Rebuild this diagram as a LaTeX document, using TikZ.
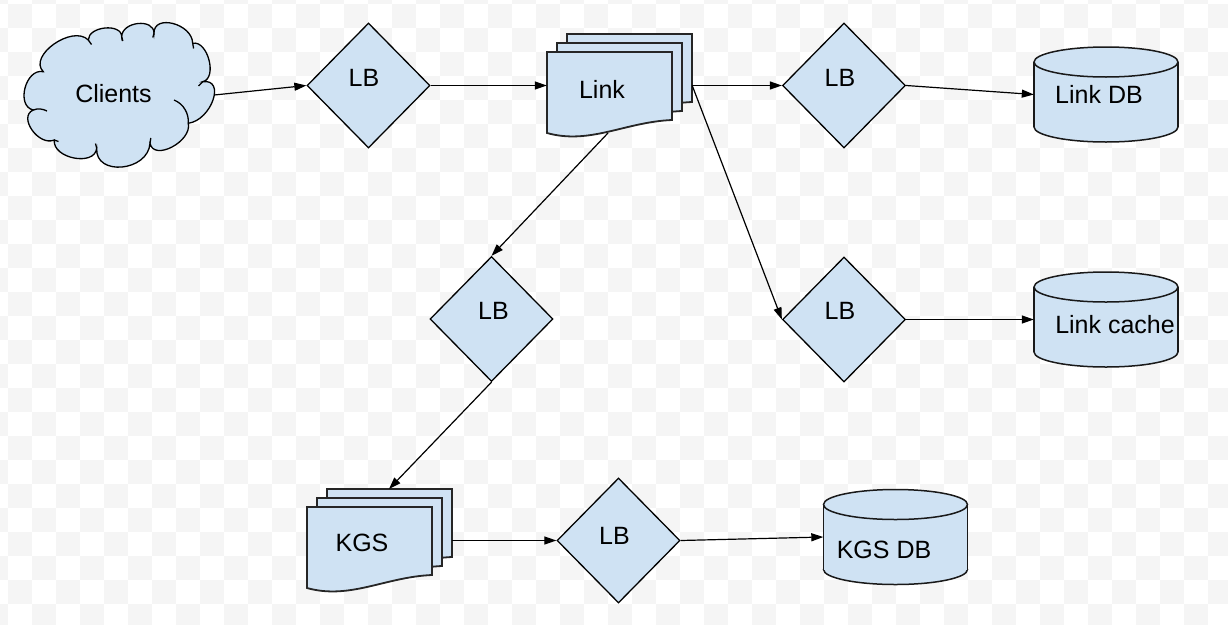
\documentclass[tikz,border=0pt]{standalone}
\usepackage{fontspec}
\setmainfont{Liberation Sans}
\usetikzlibrary{shapes.geometric,arrows.meta}
\definecolor{shapefill}{HTML}{CFE2F3}
\definecolor{checker}{HTML}{F5F5F5}
\begin{document}
\begin{tikzpicture}[x=1pt,y=-1pt,
  lbshape/.style={diamond, draw=black, fill=shapefill, line width=1.3pt,
    minimum width=123pt, minimum height=125pt, inner sep=0pt},
  lbl/.style={font=\fontsize{25}{29}\selectfont, anchor=base, inner sep=0pt},
  conn/.style={draw=black, line width=1.2pt, -{Triangle[length=12pt,width=8pt]}},
  docsh/.style={fill=shapefill, draw=black!85, line width=1.8pt, line join=miter},
  cylfill/.style={fill=shapefill, draw=black!90, line width=1.5pt},
  cloudsh/.style={fill=shapefill, draw=black, line width=1.3pt},
  areabox/.style={inner sep=0pt, draw=none},
  doc/.pic={\path[docsh] (0,0) -- (125,0) -- (125,68)
      .. controls (78,70) and (43,93) .. (0,81) -- cycle;},
  cyl/.pic={
    \path[cylfill] (0,32.5) ellipse[x radius=72, y radius=15];
    \fill[shapefill] (-72,-32.5) rectangle (72,32.5);
    \draw[black!90, line width=1.5pt] (-72,-32.5) -- (-72,32.5) (72,-32.5) -- (72,32.5);
    \path[cylfill] (0,-32.5) ellipse[x radius=72, y radius=15];}
]
\useasboundingbox (0,0) rectangle (1228,624);
% background checkerboard
\fill[white] (0,0) rectangle (1228,624);
\begin{scope}
\clip (0,0) rectangle (1228,624);
\foreach \i in {-1,...,50}{
  \pgfmathtruncatemacro\jz{-mod(\i+2,2)}
  \pgfmathtruncatemacro\jzz{\jz+2}
  \foreach \j in {\jz,\jzz,...,26}{
    \fill[checker] ({8+24*\i},{4+24*\j}) rectangle +(24,24);
  }
}
\end{scope}

% cloud
\path[cloudsh] (43.3,71.7)
  .. controls (27.57,55.9) and (72.57,24.2) .. (88.3,40)
  .. controls (88.3,26.2) and (121.7,22.9) .. (121.7,36.7)
  .. controls (121.9,21.37) and (154.2,17.97) .. (154,33.3)
  .. controls (153.53,13.57) and (192.23,23.57) .. (192.7,43.3)
  .. controls (207.77,39.97) and (217.77,78.37) .. (202.7,81.7)
  .. controls (226.03,78.37) and (211.63,119.97) .. (188.3,123.3)
  .. controls (192.1,141.57) and (153.8,161.57) .. (150,143.3)
  .. controls (148.2,171.57) and (94.9,176.57) .. (96.7,148.3)
  .. controls (94.7,166.77) and (52.3,158.47) .. (54.3,140)
  .. controls (38.57,146.67) and (17.57,116.67) .. (33.3,110)
  .. controls (15.57,106.2) and (25.57,67.9) .. (43.3,71.7) -- cycle;
\draw[black, line width=1.3pt]
  (174,100) .. controls (184,104) and (189,114) .. (188.3,123.3)
  (33.3,110) .. controls (38,108) and (43,109) .. (47,111)
  (88.3,40) -- (91.5,44.5)
  (121.7,36.7) -- (122.8,41)
  (154,33.3) -- (152.8,37.5)
  (192.7,43.3) -- (193.6,48.5)
  (202.7,81.7) -- (198.5,86)
  (150,143.3) -- (150.8,138)
  (96.7,148.3) -- (95.5,143.5)
  (54.3,140) -- (58.5,141.5);
\node[areabox, minimum width=189pt, minimum height=145pt] (clients) at (119.5,95) {};
\node[lbl] (tclients) at (113.5,102) {Clients};

% Link stack
\pic at (567,34) {doc};
\pic at (557,43) {doc};
\pic at (547,52) {doc};
\node[areabox, minimum width=145pt, minimum height=103pt] (link) at (619.5,85.5) {};
\node[lbl] (tlink) at (602,98) {Link};
\coordinate (linkbot) at (608,133);

% KGS stack
\pic at (327,489) {doc};
\pic at (317,498) {doc};
\pic at (307,507) {doc};
\node[areabox, minimum width=145pt, minimum height=99pt] (kgs) at (379.5,538.5) {};
\node[lbl] (tkgs) at (362,551) {KGS};
\coordinate (kgstop) at (389,489);

% load balancers
\node[lbshape] (lb1) at (368.5,85.5) {};
\node[lbl] (tlb1) at (364,86) {LB};
\node[lbshape] (lb2) at (844,85.5) {};
\node[lbl] (tlb2) at (840,86) {LB};
\node[lbshape] (lb3) at (844,319.5) {};
\node[lbl] (tlb3) at (840,319) {LB};
\node[lbshape] (lb4) at (491.5,319) {};
\node[lbl] (tlb4) at (493.5,319) {LB};
\node[lbshape] (lb5) at (618.5,540.5) {};
\node[lbl] (tlb5) at (614.5,544) {LB};

% databases
\pic at (1106,94.5) {cyl};
\node[areabox, minimum width=144pt, minimum height=95pt] (linkdb) at (1106,94.5) {};
\node[lbl] (tlinkdb) at (1099,103) {Link DB};
\pic at (1106,319.5) {cyl};
\node[areabox, minimum width=144pt, minimum height=95pt] (cache) at (1106,319.5) {};
\node[lbl] (tcache) at (1115,333) {Link cache};
\pic at (895.5,537) {cyl};
\node[areabox, minimum width=144pt, minimum height=95pt] (kgsdb) at (895.5,537) {};
\node[lbl] (tkgsdb) at (884,558) {KGS DB};

% connectors
\draw[conn] (clients.east) -- (lb1.west);
\draw[conn] (lb1.east) -- (link.west);
\draw[conn] (link.east) -- (lb2.west);
\draw[conn] (lb2.east) -- (linkdb.west);
\draw[conn] (link.east) -- (lb3.west);
\draw[conn] (lb3.east) -- (cache.west);
\draw[conn] (linkbot) -- (lb4.north);
\draw[conn] (lb4.south) -- (kgstop);
\draw[conn] (kgs.east |- lb5.west) -- (lb5.west);
\draw[conn] (lb5.east) -- (kgsdb.west);
\end{tikzpicture}
\end{document}
